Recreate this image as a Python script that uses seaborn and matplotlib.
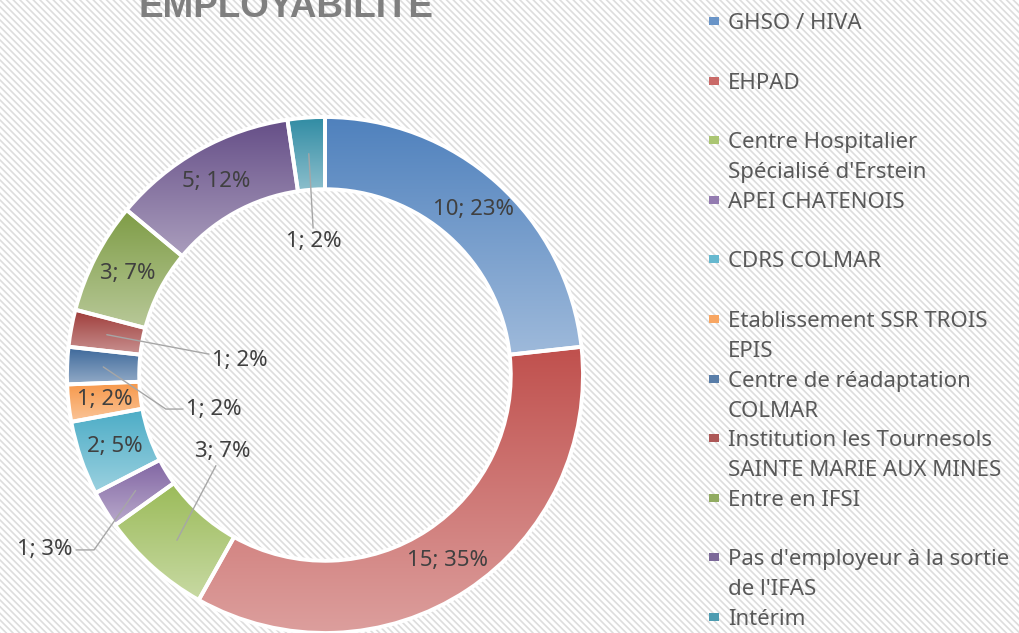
import numpy as np
import matplotlib.pyplot as plt
import matplotlib as mpl
from matplotlib.patches import Rectangle
import seaborn as sns

# data
categories = ["GHSO / HIVA", "EHPAD", "Centre Hospitalier\nSpécialisé d'Erstein",
              "APEI CHATENOIS", "CDRS COLMAR", "Etablissement SSR TROIS\nEPIS",
              "Centre de réadaptation\nCOLMAR", "Institution les Tournesols\nSAINTE MARIE AUX MINES",
              "Entre en IFSI", "Pas d'employeur à la sortie\nde l'IFAS", "Intérim"]
counts = [10, 15, 3, 1, 2, 1, 1, 1, 3, 5, 1]
pct_labels = ["23%", "35%", "7%", "3%", "5%", "2%", "2%", "2%", "7%", "12%", "2%"]
title = "EMPLOYABILITE"

# office-like colours (top of the gradient)
colors = ["#4F81BD", "#C0504D", "#9BBB59", "#8064A2", "#4BACC6", "#F79646",
          "#3A6699", "#9E3B39", "#7E9C45", "#654E87", "#2F8BA3"]

sns.set_theme(style="white")
plt.rcParams['font.family'] = ['Noto Sans', 'DejaVu Sans']

fig = plt.figure(figsize=(10.2, 6.33), dpi=100)
fig.patch.set_facecolor('white')
mpl.rcParams['hatch.linewidth'] = 1.2
fig.patches.append(Rectangle((0, 0), 1, 1, transform=fig.transFigure, facecolor='white',
                             edgecolor='#DDDDDD', hatch='\\\\\\\\\\', lw=0, zorder=-10))

ax = fig.add_axes([0, 0, 1, 1])
ax.patch.set_visible(False)

R_IN = 0.72
wedges, _ = ax.pie(counts, startangle=90, counterclock=False, radius=1.0,
                   wedgeprops=dict(width=1 - R_IN, edgecolor='white', linewidth=2.8))

# vertical gradient in every slice, darker on top
for w, col in zip(wedges, colors):
    th = np.radians(np.linspace(w.theta1, w.theta2, 80))
    xs = np.concatenate([np.cos(th), R_IN * np.cos(th)])
    ys = np.concatenate([np.sin(th), R_IN * np.sin(th)])
    c_top = np.array(mpl.colors.to_rgb(col))
    c_bot = c_top + (1 - c_top) * 0.45
    grad = np.linspace(0, 1, 256)[:, None, None] * (c_bot - c_top) + c_top
    im = ax.imshow(grad, extent=[xs.min(), xs.max(), ys.min(), ys.max()], origin='upper',
                   aspect='auto', interpolation='bilinear', zorder=1)
    im.set_clip_path(w)
    w.set_facecolor('none')
    w.set_zorder(2)

# data labels
leader = {2: ((-0.395, -0.298), None),
          3: ((-1.085, -0.678), "angle,angleA=0,angleB=55,rad=0"),
          6: ((-0.430, -0.132), "angle,angleA=0,angleB=-34,rad=0"),
          7: ((-0.329, 0.058), None),
          10: ((-0.043, 0.516), None)}
for i, w in enumerate(wedges):
    mid = np.radians((w.theta1 + w.theta2) / 2)
    anchor = (0.86 * np.cos(mid), 0.86 * np.sin(mid))
    txt = f"{counts[i]}; {pct_labels[i]}"
    if i in leader:
        pos, conn = leader[i]
        ap = dict(arrowstyle='-', color='#A6A6A6', lw=1.0, shrinkA=0, shrinkB=0)
        if conn:
            ap['connectionstyle'] = conn
        ax.annotate(txt, xy=anchor, xytext=pos, ha='center', va='center',
                    fontsize=16, color='#404040', arrowprops=ap, zorder=5)
    else:
        ax.text(anchor[0], anchor[1], txt, ha='center', va='center',
                fontsize=16, color='#404040', zorder=5)

# geometry: centre at (325, 375) px, radius 258 px
W, H, cx, cy, r = 1020, 633, 325, 375, 258
ax.set_xlim(-cx / r, (W - cx) / r)
ax.set_ylim(-(H - cy) / r, cy / r)
ax.set_aspect('equal')
ax.axis('off')

# title (cut at top, as in the original)
fig.text(286 / W, 1 - 17 / H, title, ha='center', va='baseline', fontsize=26.5,
         fontweight='bold', color='#7F7F7F', family=['Liberation Sans', 'DejaVu Sans'])

# legend, Excel style: 2-line slots, marker beside first line
for i, (lab, col) in enumerate(zip(categories, colors)):
    base = 29 + 59.6 * i
    c = np.array(mpl.colors.to_rgb(col))
    c = c + (1 - c) * 0.15
    fig.patches.append(Rectangle((709 / W, 1 - (base - 4) / H), 10 / W, 8 / H,
                                 transform=fig.transFigure, facecolor=c, edgecolor='none'))
    for j, line in enumerate(lab.split('\n')):
        fig.text(728 / W, 1 - (base + 30 * j) / H, line, ha='left', va='baseline',
                 fontsize=16, color='#595959')

fig.savefig('out.png', dpi=100)
